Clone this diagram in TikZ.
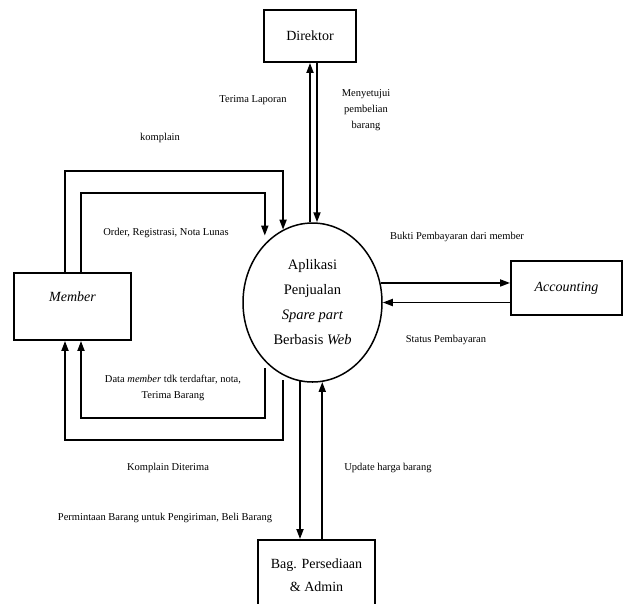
\documentclass[tikz,border=0pt]{standalone}
\usepackage{fontspec}
\setmainfont{Liberation Serif}
\usetikzlibrary{arrows.meta,shapes.geometric}
\begin{document}
\begin{tikzpicture}[x=1pt,y=-1pt,
  box/.style={draw, line width=1.9pt, inner sep=0pt, font=\fontsize{14}{23}\selectfont, align=center},
  proc/.style={draw, ellipse, line width=1.5pt, minimum width=139pt, minimum height=159pt, inner sep=0pt, align=center, font=\fontsize{14.5}{25}\selectfont},
  lbl/.style={font=\fontsize{10.5}{16}\selectfont, align=center, inner sep=0pt},
  flow/.style={line width=1.8pt, -{Triangle[length=10pt,width=7pt]}}]
\useasboundingbox (0,0) rectangle (624,603);
\clip (0,0) rectangle (624,603);

\node[box, minimum width=92pt, minimum height=52pt] (dir) at (310,36) {Direktor};
\node[box, minimum width=117pt, minimum height=67pt, text height=10pt, text depth=21pt] (mem) at (72.5,306.5) {\textit{Member}};
\node[box, minimum width=111pt, minimum height=54pt] (acc) at (566.5,288) {\textit{Accounting}};
\node[box, minimum width=117pt, minimum height=70pt] (bag) at (316.5,575) {Bag. Persediaan\\\& Admin};
\node[proc] (app) at (312.5,302.5) {Aplikasi\\Penjualan\\\textit{Spare part}\\Berbasis \textit{Web}};

% Direktor
\draw[flow] (app.north -| dir.south) -- (dir.south);
\draw[flow] ([xshift=7pt]dir.south) -- ([xshift=7pt]dir.south |- app.north);

% Member top loops
\draw[flow] ([xshift=-7.5pt]mem.north) -- ++(0,-101) -| (app.112.3);
\draw[flow, shorten >=8pt] ([xshift=8.5pt]mem.north) -- ++(0,-79) -| (app.129.3);

% Member bottom loops
\draw[flow, shorten <=5pt] (app.-112.3) -- (app.-112.3 |- 0,440) -| ([xshift=-7.5pt]mem.south);
\draw[flow, shorten <=7pt] (app.-129.3) -- (app.-129.3 |- 0,418) -| ([xshift=8.5pt]mem.south);

% Accounting
\draw[flow] (app.16.1) -- (app.16.1 -| acc.west);
\draw[flow] (acc.west |- app.east) -- (app.east);

% Bag. Persediaan
\draw[flow] (app.-99.1) -- (app.-99.1 |- bag.north);
\draw[flow] (app.-83.5 |- bag.north) -- (app.-83.5);

% labels
\node[lbl] (l1) at (253,100) {Terima Laporan};
\node[lbl] (l2) at (366,110) {Menyetujui\\pembelian\\barang};
\node[lbl] (l3) at (160,138) {komplain};
\node[lbl] (l4) at (166,233) {Order, Registrasi, Nota Lunas};
\node[lbl] (l5) at (173,388) {Data \textit{member} tdk terdaftar, nota,\\Terima Barang};
\node[lbl] (l6) at (457,237) {Bukti Pembayaran dari member};
\node[lbl] (l7) at (446,340) {Status Pembayaran};
\node[lbl] (l8) at (168,468) {Komplain Diterima};
\node[lbl] (l9) at (165,518) {Permintaan Barang untuk Pengiriman, Beli Barang};
\node[lbl] (l10) at (388,468) {Update harga barang};
\end{tikzpicture}
\end{document}
